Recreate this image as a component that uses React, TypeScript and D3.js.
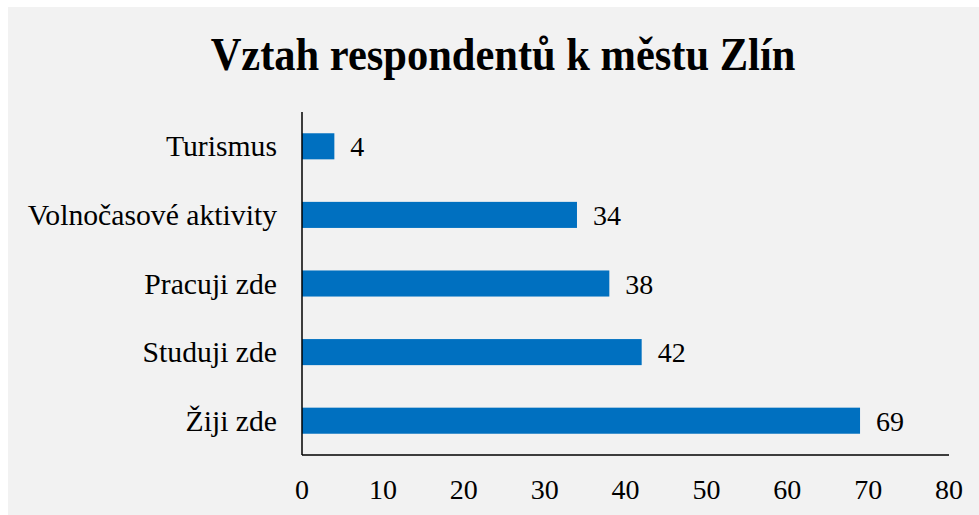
import React, { useRef, useEffect } from "react";
import * as d3 from "d3";

const categories = ["Turismus", "Volnočasové aktivity", "Pracuji zde", "Studuji zde", "Žiji zde"];
const values = [4, 34, 38, 42, 69];
const xTicks = [0, 10, 20, 30, 40, 50, 60, 70, 80];
const title = "Vztah respondentů k městu Zlín";

export default function App() {
  const svgRef = useRef<SVGSVGElement>(null);

  useEffect(() => {
    if (!svgRef.current) return;
    const svg = d3.select(svgRef.current);
    svg.selectAll("*").remove();

    const width = 979;
    const height = 515;
    const font = "'Liberation Serif', 'Times New Roman', serif";

    // background panel
    svg.append("rect").attr("width", width).attr("height", height).attr("fill", "#ffffff");
    svg.append("rect")
      .attr("x", 8)
      .attr("y", 7)
      .attr("width", width - 8)
      .attr("height", height - 7)
      .attr("fill", "#f2f2f2");

    // title, a bit condensed like the original
    svg.append("text")
      .attr("transform", "translate(503,70) scale(1,1.08)")
      .attr("text-anchor", "middle")
      .attr("font-family", font)
      .attr("font-weight", "bold")
      .attr("font-size", "42.5px")
      .attr("fill", "#000")
      .text(title);

    const left = 302, right = 949, top = 112, bottom = 455;
    const x = d3.scaleLinear().domain([0, 80]).range([left, right]);
    const y = d3.scaleBand().domain(categories).range([top, bottom]).paddingInner(0.62).paddingOuter(0.31);

    // bars
    svg.append("g")
      .selectAll("rect")
      .data(values)
      .enter()
      .append("rect")
      .attr("x", x(0))
      .attr("y", (_, i) => y(categories[i]) || 0)
      .attr("width", (d) => x(d) - x(0))
      .attr("height", y.bandwidth())
      .attr("fill", "#0070c0");

    // value labels
    svg.append("g")
      .selectAll("text")
      .data(values)
      .enter()
      .append("text")
      .attr("x", (d) => x(d) + 16)
      .attr("y", (_, i) => (y(categories[i]) || 0) + y.bandwidth() / 2)
      .attr("dy", "0.36em")
      .attr("font-family", font)
      .attr("font-size", "28px")
      .attr("fill", "#000")
      .text((d) => d);

    // category labels
    svg.append("g")
      .selectAll("text")
      .data(categories)
      .enter()
      .append("text")
      .attr("x", 277)
      .attr("y", (d) => (y(d) || 0) + y.bandwidth() / 2)
      .attr("dy", "0.34em")
      .attr("text-anchor", "end")
      .attr("font-family", font)
      .attr("font-size", "29.7px")
      .attr("fill", "#000")
      .text((d) => d);

    // axes lines
    svg.append("line")
      .attr("x1", left).attr("x2", left)
      .attr("y1", top).attr("y2", bottom)
      .attr("stroke", "#000").attr("stroke-width", 1.5);
    svg.append("line")
      .attr("x1", left).attr("x2", right)
      .attr("y1", bottom).attr("y2", bottom)
      .attr("stroke", "#000").attr("stroke-width", 1.5);

    // x tick labels
    svg.append("g")
      .selectAll("text")
      .data(xTicks)
      .enter()
      .append("text")
      .attr("x", (d) => x(d))
      .attr("y", 499)
      .attr("text-anchor", "middle")
      .attr("font-family", font)
      .attr("font-size", "28px")
      .attr("fill", "#000")
      .text((d) => d);
  }, []);

  return (
    <svg
      ref={svgRef}
      width={979}
      height={515}
      style={{ position: "absolute", left: 0, top: 0, display: "block" }}
    />
  );
}
